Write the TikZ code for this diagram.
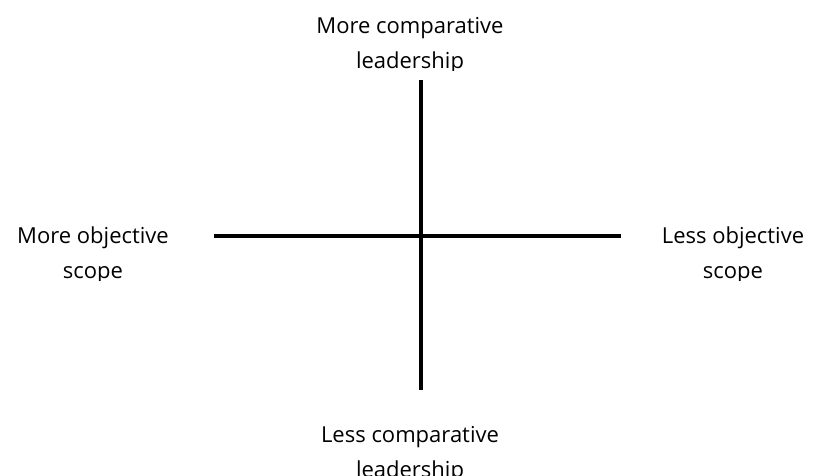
\documentclass[tikz,border=0pt]{standalone}
\usepackage{fontspec}
\setmainfont{Open Sans}
\usetikzlibrary{positioning}

\tikzset{
  axislabel/.style={align=center, inner sep=0pt, anchor=base, font=\fontsize{22}{35}\selectfont},
  axisline/.style={line width=4.5pt}
}

\begin{document}
\begin{tikzpicture}[x=1pt, y=-1pt]
  \useasboundingbox (0,0) rectangle (821,475);
  % axes
  \coordinate (top) at (421,80);
  \coordinate (bottom) at (421,390);
  \coordinate (left) at (214,236);
  \coordinate (right) at (621,236);
  \draw[axisline] (top) -- (bottom);
  \draw[axisline] (left) -- (right);
  % labels, second line cut off at the box edge (base = last line)
  \begin{scope}
    \clip (280,0) rectangle (540,70);
    \node[axislabel] (moreLead) at (410,68) {More comparative\\leadership};
  \end{scope}
  \begin{scope}
    \clip (0,210) rectangle (195,280);
    \node[axislabel] (moreObj) at (93,278) {More objective\\scope};
  \end{scope}
  \begin{scope}
    \clip (630,210) rectangle (821,280);
    \node[axislabel] (lessObj) at (733,278) {Less objective\\scope};
  \end{scope}
  \node[axislabel] (lessLead) at (410,477) {Less comparative\\leadership};
\end{tikzpicture}
\end{document}
